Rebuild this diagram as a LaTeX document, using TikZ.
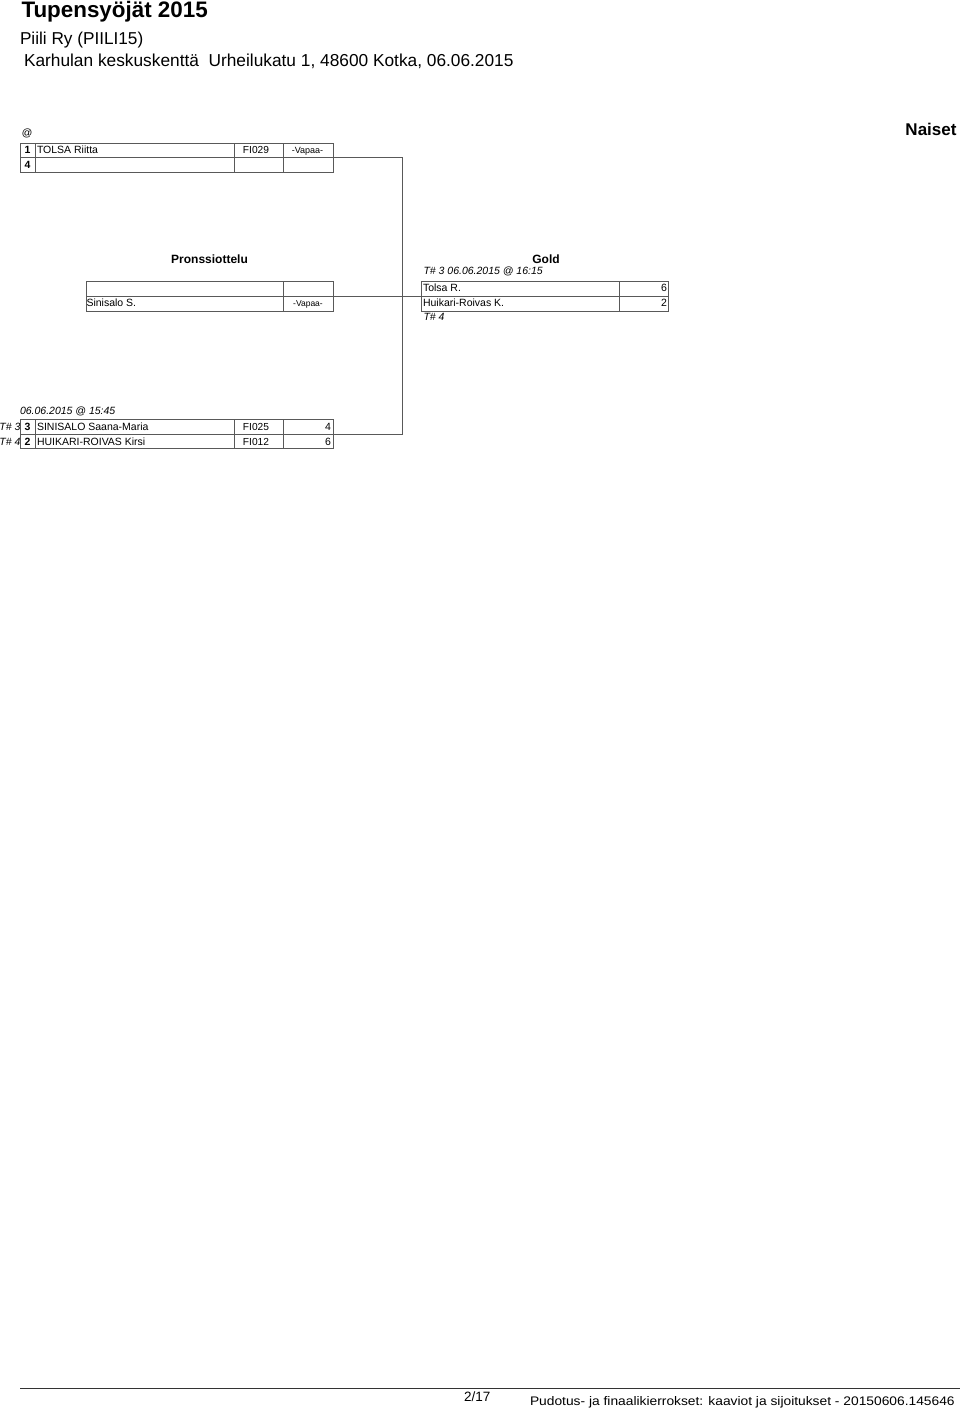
\documentclass[tikz,border=0pt]{standalone}
\usepackage{fontspec}
\setmainfont{Liberation Sans}
\newcommand{\myfs}[1]{\fontsize{#1}{#1}\selectfont}
\colorlet{linec}{black!65}
\tikzset{
 cell/.style={draw=linec, line width=0.8pt, inner sep=0pt, outer sep=0pt, anchor=north west, minimum height=14.5pt},
 txt/.style={inner sep=0pt, outer sep=0pt, anchor=base west, font=\myfs{10.5}},
 txtr/.style={txt, anchor=base east},
 txtc/.style={txt, anchor=base},
 num/.style={txtc, font=\myfs{10.5}\bfseries},
 club/.style={txtc, font=\myfs{9}},
 code/.style={txtc, font=\myfs{10.2}},
 itxt/.style={txt, font=\myfs{10.5}\itshape},
 conn/.style={draw=linec, line width=0.8pt},
}
\begin{document}
\begin{tikzpicture}[x=1pt,y=-1pt]
\useasboundingbox (0,0) rectangle (960,1412);

% header
\node[txt, font=\myfs{22.4}\bfseries] (title) at (21.5,18) {Tupensyöjät 2015};
\node[txt, font=\myfs{17.2}] (club) at (20,45) {Piili Ry (PIILI15)};
\node[txt, font=\myfs{17.3}] (venue) at (24,66.5) {Karhulan keskuskenttä\ \ Urheilukatu 1, 48600 Kotka, 06.06.2015};
\node[txt, anchor=base east, font=\myfs{17}\bfseries] (cat) at (956.5,136) {Naiset};

% top table
\node[itxt] (at) at (21.5,137) {@};
\node[cell, minimum width=15pt] (a1) at (20,143) {};
\node[cell, minimum width=199pt] (a2) at (35,143) {};
\node[cell, minimum width=49pt] (a3) at (234,143) {};
\node[cell, minimum width=50pt] (a4) at (283,143) {};
\node[cell, minimum width=15pt] (a5) at (20,157.5) {};
\node[cell, minimum width=199pt] (a6) at (35,157.5) {};
\node[cell, minimum width=49pt] (a7) at (234,157.5) {};
\node[cell, minimum width=50pt] (a8) at (283,157.5) {};
\node[num] (a1t) at (27.5,154) {1};
\node[txt] (a2t) at (37,154) {TOLSA Riitta};
\node[code] (a3t) at (256,154) {FI029};
\node[club] (a4t) at (307.5,154) {-Vapaa-};
\node[num] (a5t) at (27.5,168.5) {4};

% bronze match
\node[txtc, font=\myfs{12}\bfseries] (bronze) at (209.5,263.5) {Pronssiottelu};
\node[cell, minimum width=197pt, minimum height=15pt] (p1) at (86,281) {};
\node[cell, minimum width=50pt, minimum height=15pt] (p2) at (283,281) {};
\node[cell, minimum width=197pt, minimum height=15pt] (p3) at (86,296) {};
\node[cell, minimum width=50pt, minimum height=15pt] (p4) at (283,296) {};
\node[txt] (p3t) at (86.5,306.5) {Sinisalo S.};
\node[club, font=\myfs{8.5}] (p4t) at (308,306.5) {-Vapaa-};

% gold match
\node[txtc, font=\myfs{12}\bfseries] (gold) at (546,263.5) {Gold};
\node[itxt] (g0) at (423.5,275) {T\# 3 06.06.2015 @ 16:15};
\node[cell, minimum width=198pt, minimum height=15pt] (g1) at (421,281) {};
\node[cell, minimum width=49pt, minimum height=15pt] (g2) at (619,281) {};
\node[cell, minimum width=198pt, minimum height=15pt] (g3) at (421,296) {};
\node[cell, minimum width=49pt, minimum height=15pt] (g4) at (619,296) {};
\node[txt] (g1t) at (423,291.5) {Tolsa R.};
\node[txtr] (g2t) at (667,291.5) {6};
\node[txt] (g3t) at (423,306.5) {Huikari-Roivas K.};
\node[txtr] (g4t) at (667,306.5) {2};
\node[itxt] (g5) at (423.5,320.5) {T\# 4};

% bottom table
\node[itxt] (bd) at (20,414.5) {06.06.2015 @ 15:45};
\node[itxt, anchor=base east] (b0a) at (20.5,430.5) {T\# 3};
\node[itxt, anchor=base east] (b0b) at (20.5,445) {T\# 4};
\node[cell, minimum width=15pt] (b1) at (20,419.5) {};
\node[cell, minimum width=199pt] (b2) at (35,419.5) {};
\node[cell, minimum width=49pt] (b3) at (234,419.5) {};
\node[cell, minimum width=50pt] (b4) at (283,419.5) {};
\node[cell, minimum width=15pt] (b5) at (20,434) {};
\node[cell, minimum width=199pt] (b6) at (35,434) {};
\node[cell, minimum width=49pt] (b7) at (234,434) {};
\node[cell, minimum width=50pt] (b8) at (283,434) {};
\node[num] (b1t) at (27.5,430.5) {3};
\node[txt] (b2t) at (37,430.5) {SINISALO Saana-Maria};
\node[code] (b3t) at (256,430.5) {FI025};
\node[txtr] (b4t) at (331,430.5) {4};
\node[num] (b5t) at (27.5,445) {2};
\node[txt] (b6t) at (37,445) {HUIKARI-ROIVAS Kirsi};
\node[code] (b7t) at (256,445) {FI012};
\node[txtr] (b8t) at (331,445) {6};

% connectors
\coordinate (jt) at (402,157.5);
\coordinate (jb) at (402,434);
\draw[conn] (a8.north east) -- (jt) -- (jb) -- (b4.south east);
\draw[conn] (p2.south east) -- (g1.south west);

% footer
\coordinate (fl) at (20,1388);
\coordinate (fr) at (960,1388);
\draw[conn, draw=black!80] (fl) -- (fr);
\node[txt, font=\myfs{13.5}] (page) at (464,1401) {2/17};
\node[txt, font=\myfs{13.8}] (foot) at (530,1405.5) {\scalebox{1}[0.9]{Pudotus- ja finaalikierrokset: kaaviot ja sijoitukset - 20150606.145646}};
\end{tikzpicture}
\end{document}
